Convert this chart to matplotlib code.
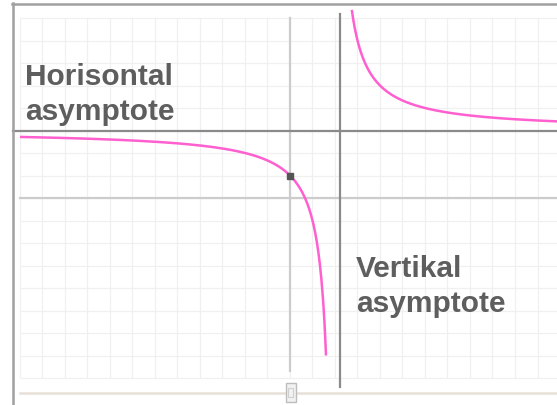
import numpy as np
import matplotlib
matplotlib.use("Agg")
import matplotlib.pyplot as plt
from matplotlib.patches import Rectangle

# hyperbola y = a / (x - h) + k
a, h, k = 4.0, 2.0, 3.0
x_left = (-12.0, 1.6)      # drawn range of the left branch
x_right = (2.746, 11.9)    # drawn range of the right branch
point = (0.0, 1.0)         # marked y-intercept
grid_x = np.arange(-12, 12)
grid_y = np.arange(-8, 9)
vert_line_x = 2.22         # drawn position of the vertical asymptote line
labels = [("Horisontal", "asymptote"), ("Vertikal", "asymptote")]

W, H = 557, 405
UNIT, X0, Y0 = 22.5, 290, 198  # px per unit, pixel position of origin


def px(x, y):
    return (x - X0) / UNIT, (Y0 - y) / UNIT


fig = plt.figure(figsize=(W / 100, H / 100), dpi=100)
ax = fig.add_axes([0, 0, 1, 1])
ax.set_xlim(px(0, 0)[0], px(W, 0)[0])
ax.set_ylim(px(0, H)[1], px(0, 0)[1])
ax.axis("off")

# grid
xr = ax.get_xlim()[1]
ax.vlines(grid_x, grid_y[0], grid_y[-1], color="#f0f0f0", lw=0.9, zorder=1)
ax.hlines(grid_y, grid_x[0], xr, color="#f0f0f0", lw=0.9, zorder=1)

# coordinate axes
ax.plot([0, 0], [grid_y[0] + 0.3, grid_y[-1]], color="#cccccc", lw=1.6, zorder=2)
ax.plot([grid_x[0], xr], [0, 0], color="#cccccc", lw=1.6, zorder=2)

# asymptote lines
ax.plot([px(13, 0)[0], xr], [k, k], color="#8a8a8a", lw=1.6, zorder=3)
ax.plot([vert_line_x, vert_line_x], [px(0, 387)[1], px(0, 14)[1]],
        color="#8a8a8a", lw=1.6, zorder=3)

# curve
for lo, hi in (x_left, x_right):
    xs = np.linspace(lo, hi, 400)
    ax.plot(xs, a / (xs - h) + k, color="#ff5fcf", lw=1.8, zorder=4,
            solid_capstyle="butt")

ax.plot(*point, marker="s", ms=4.5, color="#555555", zorder=5)

# frame
ax.plot([px(12, 0)[0], xr], [px(0, 3.5)[1]] * 2, color="#a0a0a0", lw=1.8, zorder=6)
ax.plot([px(13.5, 0)[0]] * 2, [px(0, 3)[1], ax.get_ylim()[0]], color="#a0a0a0", lw=1.8, zorder=6)

# bottom slider
ax.plot([px(20, 0)[0], xr], [px(0, 392.5)[1]] * 2, color="#e8e0d8", lw=1.8, zorder=2)
x1, y1 = px(286, 402)
x2, y2 = px(296, 383)
ax.add_patch(Rectangle((x1, y1), x2 - x1, y2 - y1, facecolor="#f2f2f2",
                       edgecolor="#bdbdbd", lw=1.0, zorder=6))
x1, y1 = px(288.5, 397)
x2, y2 = px(293.5, 388)
ax.add_patch(Rectangle((x1, y1), x2 - x1, y2 - y1, facecolor="none",
                       edgecolor="#cfcfcf", lw=0.8, zorder=7))

# labels
font = dict(family=["Liberation Sans", "DejaVu Sans"], weight="bold",
            fontsize=21.5, color="#5e5e5e", va="baseline", ha="left")
for (l1, l2), (tx, ty) in zip(labels, [(25, 85), (356, 277)]):
    fig.text(tx / W, 1 - ty / H, l1, **font)
    fig.text(tx / W, 1 - (ty + 35) / H, l2, **font)

fig.savefig("out.png", dpi=100)
